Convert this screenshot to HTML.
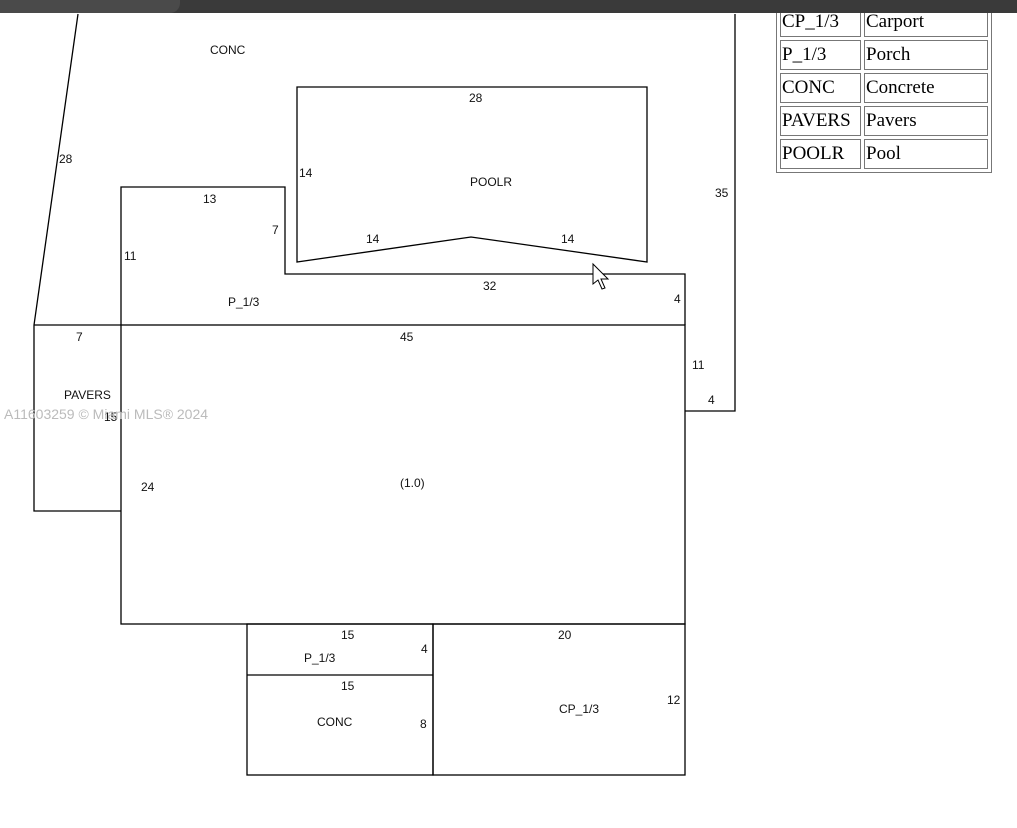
<!DOCTYPE html>
<html><head><style>
body{margin:0;width:1017px;height:828px;background:#fff;position:relative;overflow:hidden;font-family:"Liberation Sans",sans-serif}
.bar{position:absolute;left:0;top:0;width:1017px;height:13px;background:#3a3a3a}
.bar2{position:absolute;left:0;top:0;width:180px;height:13px;background:#4a4a4a;border-bottom-right-radius:10px}
table{position:absolute;left:776px;top:3px;border:1px solid #777;border-collapse:separate;border-spacing:3px;font-family:"Liberation Serif",serif;font-size:19px;background:#fff;table-layout:fixed}
td{border:1px solid #777;padding:0 1px;height:28px;line-height:28px;box-sizing:border-box;overflow:hidden;white-space:nowrap}
svg{position:absolute;left:0;top:0}
svg text{font-family:"Liberation Sans",sans-serif;font-size:12px;fill:#111}
.wm{position:absolute;left:4px;top:406px;font-size:14px;color:#bbb}
</style></head><body>
<svg width="1017" height="828">
<g fill="none" stroke="#000" stroke-width="1.3">
<polyline points="78,14 34,325 34,511 121,511"/>
<polyline points="735,14 735,411 685,411"/>
<rect x="121" y="325" width="564" height="299"/>
<polyline points="121,325 121,187 285,187 285,274 685,274 685,325"/>
<polygon points="297,87 647,87 647,262 471,237 297,262"/>
<line x1="34" y1="325" x2="121" y2="325"/>
<rect x="247" y="624" width="186" height="151"/>
<line x1="247" y1="675" x2="433" y2="675"/>
<rect x="433" y="624" width="252" height="151"/>
</g>
<path d="M593,264 L593,284 L598,280 L602,289 L605,288 L601,279 L608,279 Z" fill="#fff" stroke="#000" stroke-width="1"/>
<text x="210" y="54">CONC</text>
<text x="59" y="163">28</text>
<text x="469" y="102">28</text>
<text x="299" y="177">14</text>
<text x="470" y="186">POOLR</text>
<text x="715" y="197">35</text>
<text x="203" y="203">13</text>
<text x="272" y="234">7</text>
<text x="366" y="243">14</text>
<text x="561" y="243">14</text>
<text x="124" y="260">11</text>
<text x="483" y="290">32</text>
<text x="228" y="306">P_1/3</text>
<text x="674" y="303">4</text>
<text x="76" y="341">7</text>
<text x="400" y="341">45</text>
<text x="692" y="369">11</text>
<text x="64" y="399">PAVERS</text>
<text x="708" y="404">4</text>
<text x="104" y="421">15</text>
<text x="400" y="487">(1.0)</text>
<text x="141" y="491">24</text>
<text x="341" y="639">15</text>
<text x="558" y="639">20</text>
<text x="421" y="653">4</text>
<text x="304" y="662">P_1/3</text>
<text x="341" y="690">15</text>
<text x="667" y="704">12</text>
<text x="559" y="713">CP_1/3</text>
<text x="317" y="726">CONC</text>
<text x="420" y="728">8</text>
</svg>
<div class="wm">A11603259 © Miami MLS® 2024</div>
<table>
<colgroup><col style="width:81px"><col style="width:124px"></colgroup>
<tr><td>CP_1/3</td><td>Carport</td></tr>
<tr><td>P_1/3</td><td>Porch</td></tr>
<tr><td>CONC</td><td>Concrete</td></tr>
<tr><td>PAVERS</td><td>Pavers</td></tr>
<tr><td>POOLR</td><td>Pool</td></tr>
</table>
<div class="bar"></div><div class="bar2"></div>
</body></html>
